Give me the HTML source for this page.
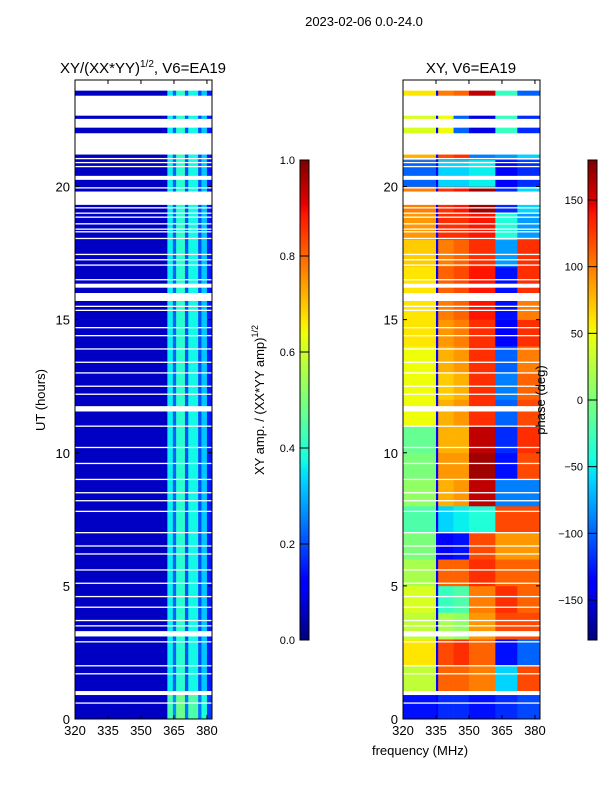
<!DOCTYPE html>
<html><head><meta charset="utf-8"><style>
body{margin:0;background:#fff}
svg text{font-family:"Liberation Sans","DejaVu Sans",sans-serif;fill:#000}
</style></head><body>
<svg id="fig" width="600" height="800" xmlns="http://www.w3.org/2000/svg">
<text x="364" y="26" font-size="13" text-anchor="middle">2023-02-06 0.0-24.0</text>
<text x="143" y="73" font-size="15" text-anchor="middle">XY/(XX*YY)<tspan font-size="10" dy="-6">1/2</tspan><tspan dy="6">, V6=EA19</tspan></text>
<text x="471" y="73" font-size="15" text-anchor="middle">XY, V6=EA19</text>
<text x="45" y="400" font-size="13" text-anchor="middle" transform="rotate(-90 45 400)">UT (hours)</text>
<text x="420" y="755" font-size="13" text-anchor="middle">frequency (MHz)</text>
<text x="264" y="400" font-size="13" text-anchor="middle" transform="rotate(-90 264 400)">XY amp. / (XX*YY amp)<tspan font-size="9" dy="-6">1/2</tspan></text>
<g id="left"></g>
<g id="right"></g>
<g id="cbars"></g>
<text x="545" y="400" font-size="13" text-anchor="middle" transform="rotate(-90 545 400)">phase (deg)</text>
</svg>
<script>
const ampEdges=[320,362,364.5,366,370,371.5,376,377.5,380,382.3];
const ampBandValues=[0.06,0.36,0.22,0.4,0.2,0.37,0.2,0.32,0.15];
const ampHourFactor=[1.2,1,1,1,1,1,1,1,1,1,1,1,1,1,1,1,1,1,1,1,1,1,1,1];
const phaseEdges=[320,335,336,343,350,362,372,382.3];
const phaseValues=[
[-130,-140,-120,-120,-130,-120,-110],
[30,-140,110,110,100,-60,120],
[60,-140,120,130,110,-130,-100],
[30,-140,20,10,90,120,120],
[40,-140,-30,-20,100,130,110],
[20,-140,110,110,130,110,110],
[0,-140,-140,-130,120,90,90],
[-20,-140,-60,-50,-40,120,120],
[10,-140,80,90,160,-90,-90],
[0,-140,90,90,170,-130,120],
[-10,-140,80,80,160,-120,130],
[50,-140,80,90,130,-100,120],
[50,-140,70,80,130,-90,110],
[50,-140,80,90,130,-100,100],
[60,-140,90,100,130,-140,130],
[60,-140,100,110,140,-130,100],
[60,-140,110,120,140,-130,130],
[70,-140,100,110,130,-80,130],
[90,-140,130,130,140,-40,-80],
[100,-140,130,140,170,-120,-60],
[-100,-140,-60,-60,-50,-140,-120],
[80,-140,120,130,-90,-80,-60],
[40,-140,50,-100,-150,-30,-120],
[60,-140,100,110,160,-30,-100]];
const gapStarts=[23.6,22.66,22.21,21.2,20.25,19.31,16.2,15.7,11.55,3.1,0.9];
const gapEnds=[24,23.41,22.54,22.0,20.4,19.81,16.35,16.0,11.75,3.3,1.05];
const thinGaps=[21.05,20.9,20.75,19.95,19.2,19.0,18.85,18.6,18.4,18.3,18.05,17.45,17.25,17.05,16.5,15.5,15.35,14.7,14.4,13.9,13.4,13.0,12.5,12.2,11.0,10.2,9.6,9.0,8.5,8.2,7.8,7.0,6.5,6.2,5.6,5.1,4.6,4.2,3.7,3.5,2.9,2.0,1.7,0.6];
const xTicks=[320,335,350,365,380];
const yTicks=[0,5,10,15,20];
const ampTicks=[0.0,0.2,0.4,0.6,0.8,1.0];
const phaseTicks=[-150,-100,-50,0,50,100,150];

const NS="http://www.w3.org/2000/svg";
const fMin=320,fMax=382.3,tMin=0,tMax=24,yTop=80,yBot=719,W=137;
function mk(t,a,p){const e=document.createElementNS(NS,t);for(const k in a)e.setAttribute(k,a[k]);p.appendChild(e);return e;}
function interp(pts,v){for(let i=1;i<pts.length;i++){if(v<=pts[i][0]){const a=pts[i-1],b=pts[i];return a[1]+(b[1]-a[1])*(v-a[0])/(b[0]-a[0]);}}return pts[pts.length-1][1];}
function jet(v){v=Math.max(0,Math.min(1,v));
const r=interp([[0,0],[0.35,0],[0.66,1],[0.89,1],[1,0.5]],v);
const g=interp([[0,0],[0.125,0],[0.375,1],[0.64,1],[0.91,0],[1,0]],v);
const b=interp([[0,0.5],[0.11,1],[0.34,1],[0.65,0],[1,0]],v);
return `rgb(${Math.round(r*255)},${Math.round(g*255)},${Math.round(b*255)})`;}
function panel(g,x0,edges,rowVal,cmap){
 const X=f=>x0+(f-fMin)/(fMax-fMin)*W, Y=t=>yBot-(t-tMin)/(tMax-tMin)*(yBot-yTop);
 for(let h=0;h<24;h++)for(let b=0;b<edges.length-1;b++){
  const r=mk('rect',{x:X(edges[b]),y:Y(h+1),width:X(edges[b+1])-X(edges[b])+0.3,height:Y(h)-Y(h+1)+0.3,fill:cmap(rowVal(h,b))},g);
  
  
 }
 for(let i=0;i<gapStarts.length;i++){
  const r=mk('rect',{x:x0,y:Y(gapEnds[i]),width:W,height:Y(gapStarts[i])-Y(gapEnds[i]),fill:'#fff'},g);
  
  
 }
 for(const t of thinGaps){
  const r=mk('rect',{x:x0,y:Y(t)-0.6,width:W,height:1.3,fill:'#fff'},g);
  
  
 }
 mk('rect',{x:x0,y:yTop,width:W,height:yBot-yTop,fill:'none',stroke:'#000','stroke-width':1},g);
 for(const f of xTicks){mk('line',{x1:X(f),x2:X(f),y1:yBot,y2:yBot-4,stroke:'#000'},g);mk('line',{x1:X(f),x2:X(f),y1:yTop,y2:yTop+4,stroke:'#000'},g);
  const t=mk('text',{x:X(f),y:yBot+16,'font-size':13,'text-anchor':'middle'},g);t.textContent=f;
  
  }
 for(const v of yTicks){const y=Y(v);mk('line',{x1:x0,x2:x0+4,y1:y,y2:y,stroke:'#000'},g);mk('line',{x1:x0+W,x2:x0+W-4,y1:y,y2:y,stroke:'#000'},g);
  const t=mk('text',{x:x0-5,y:y+5,'font-size':13,'text-anchor':'end'},g);t.textContent=v;
  
  }
}
panel(document.getElementById('left'),75,ampEdges,(h,b)=>Math.min(1,ampBandValues[b]*(b===0?1:ampHourFactor[h])),jet);
panel(document.getElementById('right'),403,phaseEdges,(h,b)=>phaseValues[h][b],v=>jet((v+180)/360));
function cbar(x,ticks,lo,hi,name,fmt){
 const g=document.getElementById('cbars'),y0=160,y1=640;
 const gr=mk('g',{},g);
 
 
 for(let i=0;i<240;i++){mk('rect',{x:x,y:y1-(i+1)*2,width:9,height:2.3,fill:jet(i/239)},gr);}
 mk('rect',{x:x,y:y0,width:9,height:y1-y0,fill:'none',stroke:'#000'},gr);
 for(const v of ticks){const y=y1-(v-lo)/(hi-lo)*(y1-y0);
  mk('line',{x1:x,x2:x+9,y1:y,y2:y,stroke:'#000'},gr);
  const t=mk('text',{x:x-5,y:y+4,'font-size':11,'text-anchor':'end'},gr);t.textContent=fmt(v);
  
  }
}
cbar(300,ampTicks,0,1,'amplitude-colorbar',v=>v.toFixed(1));
cbar(588,phaseTicks,-180,180,'phase-colorbar',v=>v<0?'\u2212'+(-v):''+v);
</script>
</body></html>
